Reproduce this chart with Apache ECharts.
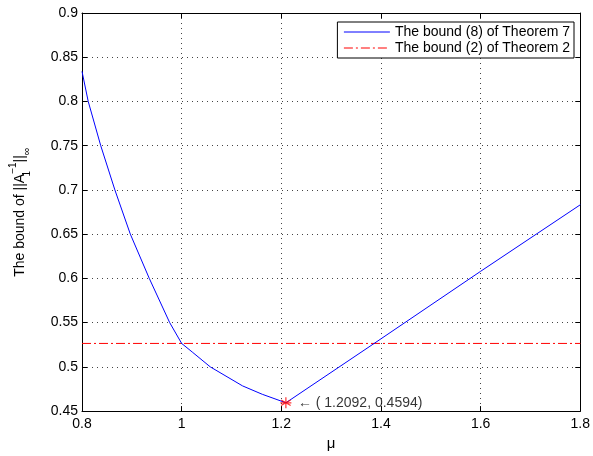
<!DOCTYPE html>
<html>
<head>
<meta charset="utf-8">
<script src="https://cdn.jsdelivr.net/npm/echarts@6/dist/echarts.min.js"></script>
<style>
  html, body { margin: 0; padding: 0; background: #fff; }
  #chart { width: 593px; height: 456px; }
</style>
</head>
<body>
<div id="chart"></div>
<script>
// bound (8) of Theorem 7
const muValues = [0.8, 0.8125, 0.8376, 0.866, 0.897, 0.935, 0.976, 1.0, 1.0212, 1.0574, 1.1222, 1.1618, 1.2092, 1.384, 1.6, 1.8]
const bound8 = [0.834, 0.80, 0.75, 0.70, 0.65, 0.60, 0.55, 0.5265, 0.5168, 0.50, 0.4785, 0.469, 0.4594, 0.5256, 0.608, 0.6832]
// bound (2) of Theorem 2 (constant)
const refMu = [0.8, 1.8]
const bound2 = [0.5265, 0.5265]
// minimum point
const minPoint = [1.2092, 0.4594]
const minLabel = '\u2190 ( 1.2092, 0.4594)'
const legendNames = ['The bound (8) of Theorem 7', 'The bound (2) of Theorem 2']

const font = 'Liberation Sans, Arial, Helvetica, sans-serif'
const trim = (v) => String(parseFloat(v.toFixed(2)))

const chart = echarts.init(document.getElementById('chart'))

const gridLine = {
  show: true,
  lineStyle: { color: '#444', type: [1, 4], width: 1 }
}
const boxAxis = {
  axisLine: { show: true, onZero: false, lineStyle: { color: '#000', width: 1 } },
  axisTick: { show: true, inside: true, length: 5, lineStyle: { color: '#000' } }
}

chart.setOption({
  animation: false,
  textStyle: { fontFamily: font },
  grid: { left: 75, right: 11, top: 13, bottom: 43 },
  legend: {
    data: legendNames,
    orient: 'vertical',
    right: 19,
    top: 22,
    backgroundColor: '#fff',
    borderColor: '#000',
    borderWidth: 1,
    padding: [3, 4, 3, 6],
    itemGap: 2,
    itemWidth: 46,
    itemHeight: 14,
    itemStyle: { opacity: 0 },
    lineStyle: { width: 1 },
    textStyle: { fontSize: 14, color: '#000', fontFamily: font }
  },
  xAxis: [
    {
      type: 'value',
      min: 0.8,
      max: 1.8,
      interval: 0.2,
      name: 'μ',
      nameLocation: 'middle',
      nameGap: 23,
      nameTextStyle: { fontSize: 15, color: '#000' },
      axisLabel: { fontSize: 14, color: '#000', margin: 6, formatter: trim },
      splitLine: gridLine,
      ...boxAxis
    },
    {
      type: 'value',
      position: 'top',
      min: 0.8,
      max: 1.8,
      interval: 0.2,
      axisLabel: { show: false },
      splitLine: { show: false },
      ...boxAxis
    }
  ],
  yAxis: [
    {
      type: 'value',
      min: 0.45,
      max: 0.9,
      interval: 0.05,
      name: '{n|The bound of ||A}{sub|1}{sup|\u22121}{n|||}{inf|\u221e}',
      nameLocation: 'middle',
      nameGap: 50,
      nameRotate: 90,
      nameTextStyle: {
        color: '#000',
        rich: {
          n: { fontSize: 14, color: '#000', fontFamily: font, lineHeight: 24, verticalAlign: 'middle' },
          sub: { fontSize: 10, color: '#000', fontFamily: font, lineHeight: 24, verticalAlign: 'bottom', width: 0 },
          sup: { fontSize: 10, color: '#000', fontFamily: font, lineHeight: 24, verticalAlign: 'top' },
          inf: { fontSize: 11, color: '#000', fontFamily: font, lineHeight: 24, verticalAlign: 'bottom' }
        }
      },
      axisLabel: { fontSize: 14, color: '#000', margin: 4, formatter: trim },
      splitLine: gridLine,
      ...boxAxis
    },
    {
      type: 'value',
      position: 'right',
      min: 0.45,
      max: 0.9,
      interval: 0.05,
      axisLabel: { show: false },
      splitLine: { show: false },
      ...boxAxis
    }
  ],
  series: [
    {
      name: legendNames[0],
      type: 'line',
      data: muValues.map((m, i) => [m, bound8[i]]),
      showSymbol: false,
      symbol: 'none',
      lineStyle: { color: '#0000ff', width: 1 },
      itemStyle: { color: '#0000ff' },
      z: 3
    },
    {
      name: legendNames[1],
      type: 'line',
      data: refMu.map((m, i) => [m, bound2[i]]),
      showSymbol: false,
      symbol: 'none',
      lineStyle: { color: '#ff0000', width: 1, type: [9, 3, 2, 3] },
      itemStyle: { color: '#ff0000' },
      z: 2
    },
    {
      type: 'scatter',
      data: [minPoint],
      symbol: 'path://M0,-10L0,10M-8.66,-5L8.66,5M-8.66,5L8.66,-5M-10,0L10,0',
      symbolSize: 11,
      itemStyle: { color: 'none', borderColor: '#ff0000', borderWidth: 1.2 },
      label: {
        show: true,
        position: 'right',
        distance: 4,
        formatter: minLabel,
        fontSize: 14,
        color: '#000',
        fontFamily: font
      },
      z: 4
    }
  ]
})
</script>
</body>
</html>
